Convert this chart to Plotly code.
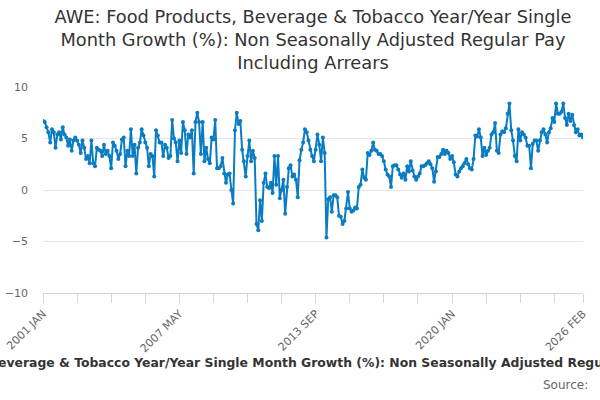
import pandas as pd
import plotly.graph_objects as go

# Monthly values, 2001 JAN .. 2026 FEB
seg_2001_2006 = [
    6.7, 6.6, 6.1, 5.6, 4.6, 5.9, 5.6, 4.1, 5.4, 5.6,
    4.9, 6.1, 5.4, 5.1, 4.3, 4.9, 3.8, 4.8, 5.1, 4.8,
    4.4, 3.6, 4.8, 4.1, 3.0, 3.3, 2.6, 4.8, 2.6, 2.3,
    4.1, 3.9, 3.8, 3.3, 4.4, 3.5, 3.8, 3.3, 2.1, 4.6,
    4.3, 3.8, 3.0, 3.5, 4.9, 5.1, 2.3, 3.8, 3.3, 5.9,
    3.3, 4.4, 1.6, 4.1, 4.6, 5.9, 5.3, 4.6, 4.1, 2.3,
    3.5, 3.3, 1.3, 5.8, 5.3, 4.6,
]
seg_2006_2012 = [
    4.6, 3.3, 4.4, 4.1, 3.1, 3.3, 6.8, 5.0, 4.6, 2.8,
    4.8, 3.6, 6.6, 5.8, 3.5, 5.4, 5.1, 5.8, 1.6, 6.6,
    7.5, 6.6, 3.5, 6.6, 2.8, 4.1, 3.0, 2.6, 5.1, 4.9,
    6.8, 2.1, 2.1, 2.3, 3.1, 1.6, 0.7, 1.5, 1.6, 0.0,
    -1.3, 5.8, 7.5, 6.4, 6.7, 3.9, 2.8, 1.3, 3.3, 4.8,
    2.8, 3.8, 3.1, -3.3, -3.9, -1.0, -3.0, 0.7, 1.6, 0.3,
    0.2, 0.7, -0.3, 3.3, 0.5, 3.3, -0.8, 0.0, 1.0, -2.3,
    0.3, 2.1, 2.4, 1.3, 1.5, 1.0, -0.7, 2.9,
]
seg_2013_2018 = [
    3.9, 4.6, 5.9, 5.6, 4.8, 3.9, 3.3, 2.8, 3.9, 5.4,
    4.4, 2.8, 5.1, 3.6, -4.6, -0.9, -0.7, -2.1, -0.5, -0.5,
    -0.7, -2.5, -2.6, -3.3, -3.0, -1.8, -0.2, -1.8, -2.1, -2.0,
    -1.7, -1.8, 0.3, 0.5, 2.0, 1.2, 1.0, 3.6, 3.4, 3.8,
    4.6, 3.9, 3.8, 3.5, 3.5, 3.3, 2.8, 2.0, 1.5, 1.3,
    0.3, 2.3, 2.4, 2.4, 2.0, 1.5, 1.2, 1.6, 1.0, 2.3,
    1.8, 2.8, 1.9, 1.3, 1.0, 1.3, 1.6, 2.3, 2.3, 2.4,
    2.6, 2.8,
]
seg_2019_2026 = [
    2.5, 2.1, 0.8, 1.8, 3.2, 3.2, 3.5, 3.9, 3.5, 3.8,
    3.6, 3.0, 3.3, 2.7, 1.5, 1.3, 1.8, 2.1, 2.3, 2.6,
    3.0, 2.5, 2.1, 2.0, 3.0, 5.3, 5.2, 5.9, 5.1, 3.3,
    4.1, 3.4, 3.8, 4.1, 5.4, 5.6, 6.5, 3.8, 3.6, 5.4,
    5.7, 5.6, 6.0, 7.4, 8.4, 5.8, 4.8, 3.3, 2.8, 5.9,
    4.8, 5.6, 5.4, 5.1, 4.3, 4.3, 2.1, 4.5, 4.8, 4.8,
    3.8, 4.8, 5.6, 5.9, 5.4, 4.6, 5.6, 6.0, 7.0, 6.6,
    8.4, 7.4, 7.4, 7.6, 8.4, 7.0, 6.3, 7.4, 6.7, 7.3,
    6.3, 5.6, 5.9, 5.3, 5.4, 5.1,
]
values = seg_2001_2006 + seg_2006_2012 + seg_2013_2018 + seg_2019_2026

months = [d.strftime("%Y %b").upper() for d in pd.date_range("2001-01-01", "2026-02-01", freq="MS")]
labelled = ["2001 JAN", "2007 MAY", "2013 SEP", "2020 JAN", "2026 FEB"]
tick_every = 19

title_text = ("AWE: Food Products, Beverage & Tobacco Year/Year Single<br>"
              "Month Growth (%): Non Seasonally Adjusted Regular Pay<br>"
              "Including Arrears")
axis_title = ("AWE: Food Products, Beverage & Tobacco Year/Year Single Month Growth (%): "
              "Non Seasonally Adjusted Regular Pay Including Arrears")

n = len(values)
tickvals = [months[i] for i in range(0, n, tick_every)] + [months[-1]]
ticktext = [m if m in labelled else "" for m in tickvals]

color = "#0a7cc2"
fig = go.Figure(go.Scatter(
    x=months, y=values, mode="lines+markers",
    line=dict(color=color, width=2),
    marker=dict(color=color, size=4),
    hoverinfo="x+y",
))

L, R, T, B = 43, 17, 87, 107
pw = 600 - L - R
ph = 400 - T - B
fig.update_layout(
    template="none",
    width=600, height=400,
    margin=dict(l=L, r=R, t=T, b=B, autoexpand=False),
    paper_bgcolor="white", plot_bgcolor="white",
    font=dict(family="DejaVu Sans", color="#666666"),
    showlegend=False,
    title=dict(text=title_text, x=0.5, xanchor="center", xref="paper",
               y=1 - 23 / 400, yanchor="middle", yref="container",
               font=dict(size=17.8, color="#333333", family="DejaVu Sans")),
    xaxis=dict(
        type="category", range=[0, n - 1], automargin=False,
        tickmode="array", tickvals=tickvals, ticktext=ticktext,
        tickangle=-45, tickfont=dict(size=11, color="#666666"),
        ticks="outside", ticklen=9, tickwidth=1, tickcolor="#ccd6eb",
        showline=True, linecolor="#ccd6eb", linewidth=1,
        showgrid=False, zeroline=False,
    ),
    yaxis=dict(
        range=[-10, 10], tickmode="array", tickvals=[-10, -5, 0, 5, 10],
        automargin=False, ticks="",
        tickfont=dict(size=11, color="#666666"),
        gridcolor="#e6e6e6", gridwidth=1, zeroline=False, showline=False,
        ticklabelstandoff=14,
    ),
    annotations=[
        dict(text="<b>" + axis_title + "</b>", xref="paper", yref="paper",
             x=0.5 - 6 / pw, y=(T + ph - 362) / ph, xanchor="center", yanchor="middle",
             showarrow=False, font=dict(size=12.4, color="#333333", family="DejaVu Sans")),
        dict(text="Source:", xref="paper", yref="paper",
             x=(590 - L) / pw, y=(T + ph - 385) / ph,
             xanchor="right", yanchor="middle",
             showarrow=False, font=dict(size=12, color="#666666", family="DejaVu Sans")),
    ],
)
fig.write_html("out.html", config={"displayModeBar": False},
               post_script="document.body.style.margin='0';document.body.style.overflow='hidden';")
